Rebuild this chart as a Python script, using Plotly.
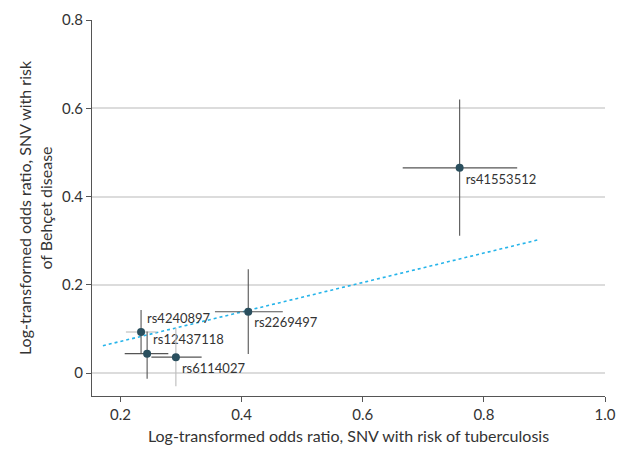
import plotly.graph_objects as go

snps = ["rs41553512", "rs2269497", "rs4240897", "rs12437118", "rs6114027"]
x_tb = [0.760, 0.411, 0.234, 0.244, 0.2915]
x_lo = [0.666, 0.356, 0.209, 0.207, 0.251]
x_hi = [0.855, 0.468, 0.260, 0.279, 0.334]
y_bd = [0.465, 0.139, 0.093, 0.044, 0.036]
y_lo = [0.311, 0.043, 0.044, -0.013, -0.030]
y_hi = [0.620, 0.235, 0.143, 0.094, 0.102]
label_pos = ["bottom right", "bottom right", "top right", "top right", "bottom right"]
ex_color = ["#555555", "#555555", "#bbbbbb", "#555555", "#555555"]
ey_color = ["#555555", "#555555", "#555555", "#555555", "#bbbbbb"]

trend_x = [0.171, 0.889]
trend_y = [0.062, 0.3016]

FONT = "Lato"
TXT = "#333333"

fig = go.Figure()

fig.add_trace(go.Scatter(
    x=trend_x, y=trend_y, mode="lines",
    line=dict(color="#26b4ea", width=1.6, dash="dot"),
    hoverinfo="skip", showlegend=False,
))

for i, name in enumerate(snps):
    fig.add_trace(go.Scatter(
        x=[x_tb[i]], y=[y_bd[i]], mode="markers+text",
        text=[name], textposition=label_pos[i],
        textfont=dict(family=FONT, size=13, color=TXT),
        marker=dict(size=8, color="#2a4f5e"),
        error_x=dict(type="data", symmetric=False,
                     array=[x_hi[i] - x_tb[i]], arrayminus=[x_tb[i] - x_lo[i]],
                     color=ex_color[i], thickness=1.1, width=0),
        error_y=dict(type="data", symmetric=False,
                     array=[y_hi[i] - y_bd[i]], arrayminus=[y_bd[i] - y_lo[i]],
                     color=ey_color[i], thickness=1.1, width=0),
        showlegend=False, name=name,
    ))

fig.update_layout(
    width=622, height=451,
    margin=dict(l=92, r=17, t=20, b=55),
    paper_bgcolor="white", plot_bgcolor="white",
    font=dict(family=FONT, size=15, color=TXT),
    xaxis=dict(
        range=[0.153, 1.0], tickvals=[0.2, 0.4, 0.6, 0.8, 1.0],
        ticktext=["0.2", "0.4", "0.6", "0.8", "1.0"],
        showgrid=False, zeroline=False, showline=True, linecolor="#555555", linewidth=1,
        ticks="outside", ticklen=5, tickcolor="#555555", automargin=False,
        tickfont=dict(family=FONT, size=15, color=TXT),
        title=dict(text="Log-transformed odds ratio, SNV with risk of tuberculosis",
                   font=dict(family=FONT, size=16, color=TXT), standoff=8),
    ),
    yaxis=dict(
        range=[-0.052, 0.8], tickvals=[0, 0.2, 0.4, 0.6, 0.8],
        ticktext=["0", "0.2", "0.4", "0.6", "0.8"],
        showgrid=True, gridcolor="#dcdcdc", gridwidth=2,
        zeroline=False, showline=True, linecolor="#555555", linewidth=1,
        ticks="outside", ticklen=5, tickcolor="#555555", automargin=False,
        tickfont=dict(family=FONT, size=15, color=TXT),
        title=dict(text="Log-transformed odds ratio, SNV with risk<br>of Behçet disease",
                   font=dict(family=FONT, size=16, color=TXT), standoff=5),
    ),
)

fig.write_html(
    "out.html",
    config={"displayModeBar": False},
    post_script="document.body.style.margin='0px';document.body.style.overflow='hidden';",
)
